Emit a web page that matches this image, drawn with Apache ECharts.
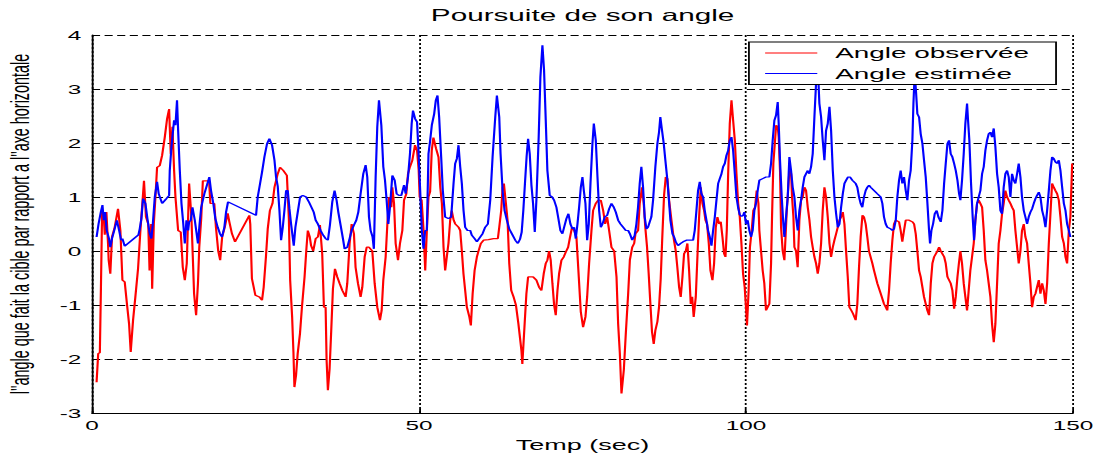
<!DOCTYPE html>
<html>
<head>
<meta charset="utf-8">
<script src="https://cdn.jsdelivr.net/npm/echarts@6/dist/echarts.min.js"></script>
<style>
  html, body { margin: 0; padding: 0; background: #fff; overflow: hidden; width: 1101px; height: 459px; }
  /* the figure is laid out on a 612px-wide canvas and stretched horizontally */
  #chart { width: 612px; height: 459px; transform: scaleX(1.79902); transform-origin: 0 0; }
</style>
</head>
<body>
<div id="chart"></div>
<script>
// Axis ranges and tick spacing
const xRange = [0, 150];
const xStep = 50;
const yRange = [-3, 4];
const yStep = 1;

const seriesNames = ['Angle observée', 'Angle estimée'];

// Observed angle: [time (s), angle]
const observedAngle = [
  [0.7,-2.43],[0.95,-1.9],[1.2,-1.88],[1.35,-0.79],[1.55,0.75],[1.8,0.63],[1.95,0.3],[2.2,0.72],[2.45,0.14],[2.55,-0.17],
  [2.8,-0.42],[3.06,0.26],[3.47,0.44],[3.98,0.78],[4.34,0.38],[4.65,-0.54],[5.0,-0.57],[5.36,-1.0],[5.67,-1.35],[5.92,-1.87],
  [6.28,-1.28],[6.63,-0.85],[7.04,-0.33],[7.4,0.38],[7.95,1.3],[8.25,0.63],[8.6,0.5],[8.8,-0.36],[9.05,0.5],[9.2,-0.7],
  [9.45,0.5],[9.7,1.0],[9.95,1.55],[10.36,1.58],[10.72,1.77],[11.12,2.1],[11.48,2.45],[11.79,2.63],[12.04,1.8],[12.3,2.3],
  [12.55,1.5],[12.76,1.0],[13.17,0.38],[13.57,0.35],[13.88,-0.3],[14.19,-0.54],[14.49,-0.23],[14.85,1.25],[15.2,0.63],[15.61,-0.79],
  [15.92,-1.19],[16.2,-0.6],[16.4,0.07],[16.7,0.6],[16.95,1.3],[17.9,1.3],[18.1,0.88],[18.7,0.88],[18.95,0.44],[19.3,0.0],
  [19.6,-0.17],[19.9,0.26],[20.3,0.44],[20.75,0.7],[21.0,0.54],[21.4,0.32],[21.87,0.17],[24.06,0.66],[24.2,0.5],[24.45,-0.51],
  [24.98,-0.82],[25.6,-0.85],[26.0,-0.91],[26.25,-0.67],[26.6,-0.1],[26.87,0.41],[27.2,0.75],[27.6,0.88],[27.9,1.18],[28.4,1.43],
  [28.75,1.55],[29.25,1.49],[29.8,1.4],[30.1,0.6],[30.3,-0.54],[30.6,-1.22],[30.8,-1.87],[30.95,-2.52],[31.2,-2.3],[31.45,-1.9],
  [31.8,-1.53],[32.1,-1.04],[32.5,-0.48],[32.8,0.07],[33.0,0.38],[33.3,0.26],[33.5,0.1],[33.83,0.0],[34.2,0.23],[34.54,0.26],
  [34.85,0.48],[35.2,-0.05],[35.46,-1.04],[35.72,-1.04],[35.87,-2.02],[36.07,-2.58],[36.33,-2.18],[36.58,-1.47],[36.84,-0.7],[37.15,-0.33],
  [37.5,-0.48],[37.86,-0.6],[38.27,-0.73],[38.78,-0.85],[39.03,-0.6],[39.39,0.14],[39.7,0.5],[40.05,0.32],[40.3,-0.3],[40.67,-0.6],
  [41.07,-0.85],[41.33,-0.67],[41.69,-0.11],[42.0,0.07],[42.35,0.07],[42.86,0.0],[43.22,-0.6],[43.62,-1.04],[44.03,-1.28],[44.29,-1.1],
  [44.54,-0.54],[44.9,-0.11],[45.16,0.5],[45.41,1.0],[45.77,0.81],[45.92,1.18],[46.18,0.88],[46.43,0.14],[46.79,-0.17],[47.09,0.14],
  [47.45,0.38],[47.71,0.94],[48.06,1.06],[48.32,1.43],[48.62,1.56],[48.98,1.68],[49.39,1.96],[49.7,1.86],[49.95,1.5],[50.1,1.0],
  [50.4,0.94],[50.7,0.38],[50.95,-0.36],[51.2,0.38],[51.45,1.0],[51.7,1.1],[51.95,1.86],[52.2,2.1],[52.6,1.9],[52.98,1.74],
  [53.25,1.18],[53.5,0.88],[53.75,0.07],[54.0,-0.36],[54.25,-0.11],[54.5,0.14],[54.77,0.57],[55.0,0.75],[55.3,0.57],[55.55,0.5],
  [56.05,0.44],[56.3,0.38],[56.55,0.0],[56.8,-0.42],[57.06,-0.73],[57.32,-1.04],[57.7,-1.22],[57.93,-1.38],[58.2,-0.79],[58.5,-0.36],
  [58.85,-0.11],[59.1,0.0],[59.46,0.14],[59.87,0.2],[60.63,0.21],[61.4,0.23],[62.06,0.23],[62.27,0.44],[62.57,0.75],[62.78,1.18],
  [62.98,1.25],[63.29,0.88],[63.54,0.57],[63.8,-0.23],[64.1,-0.73],[64.46,-0.85],[64.82,-1.0],[65.2,-1.35],[65.66,-1.84],[65.8,-2.09],
  [66.17,-1.31],[66.42,-0.79],[66.68,-0.48],[67.44,-0.48],[67.95,-0.54],[68.36,-0.67],[68.72,-0.73],[69.07,-0.42],[69.38,-0.23],[69.63,-0.17],
  [69.89,0.0],[70.14,-0.17],[70.4,-0.6],[70.66,-1.0],[70.91,-1.19],[71.17,-0.73],[71.42,-0.42],[71.78,-0.17],[72.13,-0.11],[72.44,-0.02],
  [72.8,0.07],[73.05,0.23],[73.4,0.44],[73.72,0.38],[74.07,0.26],[74.43,-0.48],[74.74,-1.13],[75.09,-1.41],[75.45,-1.22],[75.71,-0.85],
  [76.01,-0.23],[76.37,0.38],[76.62,0.75],[77.03,0.88],[77.39,0.94],[77.8,0.94],[78.16,0.75],[78.46,0.5],[78.77,0.63],[79.07,0.38],
  [79.43,0.07],[79.84,0.0],[80.2,-0.48],[80.45,-1.35],[80.71,-1.9],[80.96,-2.64],[81.32,-2.2],[81.62,-1.53],[81.98,-0.79],[82.24,-0.17],
  [82.6,0.07],[82.9,0.14],[83.1,0.32],[83.5,0.38],[83.75,0.88],[84.1,1.18],[84.36,0.88],[84.6,0.44],[84.87,0.07],[85.12,-0.42],
  [85.38,-0.98],[85.63,-1.5],[85.89,-1.72],[86.14,-1.47],[86.45,-1.31],[86.7,-1.04],[86.96,-0.51],[87.2,0.26],[87.47,1.03],[87.73,1.37],
  [87.98,1.34],[88.24,0.94],[88.6,0.57],[88.95,0.23],[89.26,0.0],[89.5,-0.3],[89.77,-0.67],[90.02,-0.85],[90.28,-0.48],[90.53,-0.05],
  [90.79,0.0],[91.04,0.14],[91.3,-0.36],[91.55,-0.98],[91.77,-0.85],[92.0,-1.22],[92.32,-0.85],[92.57,-0.11],[92.83,0.63],[93.08,1.18],
  [93.34,0.88],[93.59,0.75],[93.8,0.57],[94.05,0.5],[94.31,0.14],[94.56,-0.36],[94.87,-0.54],[95.12,-0.23],[95.38,0.44],[95.63,0.63],
  [95.89,0.5],[96.14,0.54],[96.4,0.26],[96.65,-0.05],[96.86,-0.11],[97.06,0.38],[97.27,1.43],[97.52,2.36],[97.78,2.79],[98.03,2.42],
  [98.29,2.05],[98.54,1.43],[98.8,0.88],[99.05,0.63],[99.3,0.14],[99.55,-0.42],[99.8,-0.67],[100.0,-1.04],[100.15,-1.38],[100.4,-0.73],
  [100.6,0.07],[100.87,0.38],[101.12,0.75],[101.38,0.81],[101.63,1.12],[101.9,0.88],[102.04,0.38],[102.3,0.0],[102.55,-0.36],[102.8,-0.6],
  [103.06,-1.1],[103.32,-1.04],[103.57,-0.98],[103.83,-0.23],[103.98,0.63],[104.18,1.62],[104.44,2.05],[104.6,2.33],[104.85,2.3],[105.0,2.11],
  [105.2,1.49],[105.36,0.44],[105.61,0.0],[105.87,-0.17],[106.02,0.2],[106.23,0.75],[106.38,1.0],[106.63,1.49],[106.9,1.43],[107.04,1.0],
  [107.25,0.63],[107.4,0.07],[107.65,0.0],[107.9,-0.3],[108.16,0.57],[108.42,0.94],[108.67,1.0],[108.93,1.18],[109.18,1.12],[109.44,0.81],
  [109.7,0.57],[109.95,0.26],[110.2,0.07],[110.46,-0.11],[110.71,-0.23],[110.97,-0.42],[111.22,-0.23],[111.48,0.14],[111.73,0.75],[111.99,1.18],
  [112.24,1.0],[112.5,0.63],[112.76,0.14],[113.01,-0.11],[113.27,0.07],[113.52,0.2],[113.78,0.32],[114.03,0.44],[114.29,0.57],[114.54,0.63],
  [114.8,0.72],[115.05,0.5],[115.3,0.0],[115.56,-0.48],[115.8,-1.04],[116.1,-1.1],[116.36,-1.16],[116.77,-1.28],[117.02,-0.98],[117.28,-0.3],
  [117.53,0.26],[117.8,0.66],[118.04,0.63],[118.3,0.5],[118.55,0.26],[118.8,0.0],[119.32,-0.23],[119.57,-0.36],[120.08,-0.6],[120.6,-0.79],
  [121.1,-0.98],[121.36,-1.04],[121.6,-1.1],[121.87,-0.73],[122.12,-0.23],[122.38,0.2],[122.63,0.5],[122.9,0.57],[123.4,0.54],[123.65,0.38],
  [123.9,0.17],[124.16,0.38],[124.42,0.57],[124.93,0.57],[125.44,0.54],[125.7,0.5],[125.95,0.32],[126.2,0.0],[126.46,-0.36],[126.71,-0.48],
  [126.97,-0.67],[127.22,-0.85],[127.48,-0.98],[127.73,-1.1],[127.99,-1.19],[128.25,-0.6],[128.5,-0.23],[128.76,-0.11],[129.27,0.0],[129.52,0.07],
  [129.78,0.0],[130.3,-0.11],[130.54,-0.23],[130.8,-0.48],[131.3,-0.6],[131.56,-0.73],[131.82,-1.07],[132.07,-0.85],[132.33,-0.48],[132.55,-0.23],
  [132.78,0.0],[133.03,-0.23],[133.29,-0.6],[133.54,-0.85],[133.8,-1.1],[134.05,-0.73],[134.3,-0.36],[134.56,-0.11],[134.82,0.14],[135.07,0.57],
  [135.33,0.88],[135.58,0.94],[135.84,0.88],[136.1,0.81],[136.35,0.38],[136.6,-0.17],[136.86,-0.36],[137.11,-0.6],[137.37,-0.85],[137.62,-1.35],
  [137.88,-1.69],[138.13,-1.35],[138.39,-0.6],[138.64,0.14],[138.9,0.38],[139.15,0.69],[139.4,0.88],[139.66,1.12],[139.92,1.0],[140.17,0.94],
  [140.43,0.88],[140.68,0.81],[140.94,0.75],[141.19,0.38],[141.45,0.07],[141.7,-0.23],[141.96,0.0],[142.2,0.38],[142.47,0.5],[142.72,0.26],
  [142.98,0.14],[143.23,-0.23],[143.49,-0.6],[143.74,-1.04],[144.0,-0.85],[144.26,-0.79],[144.5,-0.67],[144.77,-0.54],[145.02,-0.79],[145.28,-0.6],
  [145.53,-0.73],[145.79,-0.98],[146.04,-0.6],[146.3,0.14],[146.55,0.69],[146.8,1.25],[147.06,1.18],[147.3,1.12],[147.57,1.06],[147.83,0.94],
  [148.08,0.63],[148.34,0.26],[148.6,0.14],[148.85,-0.11],[149.1,-0.23],[149.36,0.38],[149.6,0.63],[149.87,1.62]
];

// Estimated angle: [time (s), angle]
const estimatedAngle = [
  [0.7,0.26],[1.0,0.5],[1.35,0.72],[1.6,0.85],[1.8,0.57],[2.0,0.72],[2.25,0.38],[2.6,0.23],[2.8,0.07],[3.05,0.23],
  [3.4,0.38],[3.8,0.57],[4.15,0.38],[4.45,0.2],[4.65,0.23],[5.0,0.09],[7.1,0.3],[7.3,0.41],[7.55,0.6],[7.81,0.97],
  [8.17,0.88],[8.47,0.6],[8.83,0.32],[9.08,0.23],[9.3,0.5],[9.6,1.0],[9.95,1.28],[10.2,1.06],[10.72,0.88],[11.38,0.97],
  [11.79,1.03],[11.89,1.49],[12.15,1.93],[12.55,2.42],[12.76,2.33],[13.0,2.79],[13.17,2.23],[13.42,1.5],[13.68,0.88],[13.93,0.54],
  [14.19,0.14],[14.44,0.57],[14.7,0.38],[14.85,0.54],[15.1,0.57],[15.36,0.81],[15.72,0.57],[16.0,0.32],[16.2,0.14],[16.45,0.5],
  [16.7,0.81],[17.18,1.06],[17.53,1.2],[17.94,1.37],[18.2,1.12],[18.55,0.88],[18.86,0.6],[19.22,0.44],[19.57,0.32],[19.88,0.26],
  [20.24,0.44],[20.5,0.72],[20.8,0.91],[25.08,0.66],[25.34,1.0],[25.7,1.25],[26.0,1.46],[26.36,1.74],[26.77,1.99],[27.12,2.08],
  [27.53,1.96],[27.9,1.68],[28.14,1.37],[28.4,1.2],[28.66,0.75],[28.91,0.2],[29.17,0.44],[29.42,0.75],[29.68,1.12],[29.93,1.12],
  [30.19,0.78],[30.44,0.5],[30.85,0.1],[31.1,0.44],[31.46,0.72],[31.82,1.0],[32.23,1.03],[32.74,1.0],[33.2,0.9],[33.6,0.8],
  [33.9,0.72],[34.2,0.57],[34.54,0.5],[34.95,0.38],[35.36,0.29],[35.72,0.23],[36.07,0.2],[36.38,0.48],[36.74,0.91],[37.09,1.12],
  [37.4,0.94],[37.66,0.72],[38.01,0.48],[38.37,0.23],[38.62,0.04],[39.03,0.07],[39.39,0.23],[39.7,0.38],[40.05,0.48],[40.41,0.57],
  [40.72,0.72],[41.07,1.06],[41.48,1.43],[41.84,1.59],[42.09,1.37],[42.35,0.63],[42.6,0.38],[42.9,0.26],[43.1,0.04],[43.37,1.37],
  [43.62,2.3],[43.88,2.79],[44.24,2.33],[44.54,1.56],[44.8,1.31],[45.05,0.94],[45.31,0.5],[45.56,0.81],[45.92,1.4],[46.28,1.31],
  [46.58,1.06],[46.94,1.03],[47.3,1.03],[47.71,1.22],[47.96,1.06],[48.32,1.37],[48.62,1.8],[48.88,2.36],[49.08,2.6],[49.4,2.45],
  [49.7,2.39],[49.92,1.86],[50.18,1.12],[50.43,0.38],[50.69,0.04],[50.94,0.38],[51.2,0.38],[51.45,1.8],[51.71,2.05],[51.96,2.33],
  [52.32,2.54],[52.57,2.79],[52.83,2.88],[53.08,2.48],[53.39,1.74],[53.64,1.12],[54.0,0.63],[54.51,0.6],[54.92,0.63],[55.28,1.25],
  [55.53,1.62],[55.79,1.71],[56.04,1.96],[56.3,1.56],[56.55,1.25],[56.81,0.75],[57.06,0.44],[57.42,0.38],[57.83,0.38],[58.08,0.29],
  [58.49,0.23],[58.85,0.17],[59.36,0.26],[59.72,0.32],[60.12,0.44],[60.53,0.5],[60.89,0.94],[61.25,1.74],[61.66,2.48],[61.91,2.88],
  [62.27,2.48],[62.47,1.8],[62.78,1.12],[63.08,0.75],[63.44,0.57],[63.8,0.41],[64.2,0.32],[64.72,0.2],[65.12,0.14],[65.45,0.22],
  [65.7,0.35],[65.95,0.75],[66.2,1.25],[66.45,1.74],[66.68,2.08],[66.93,1.8],[67.19,1.22],[67.44,0.88],[67.7,0.35],[67.95,0.94],
  [68.3,2.11],[68.56,3.22],[68.87,3.81],[69.12,3.35],[69.38,2.42],[69.63,1.49],[69.99,1.03],[70.35,1.0],[70.66,0.94],[71.01,0.81],
  [71.27,0.63],[71.62,0.38],[71.93,0.32],[72.19,0.44],[72.54,0.6],[72.85,0.69],[73.15,0.5],[73.46,0.41],[73.72,0.44],[73.97,0.23],
  [74.23,0.5],[74.48,0.81],[74.74,1.18],[74.99,1.37],[75.2,1.12],[75.45,0.88],[75.71,0.2],[75.96,0.5],[76.22,1.25],[76.52,1.99],
  [76.73,2.36],[77.03,2.05],[77.29,1.37],[77.54,0.75],[77.8,0.44],[78.05,0.5],[78.41,0.63],[78.77,0.66],[79.07,0.78],[79.43,0.88],
  [79.79,0.81],[80.09,0.72],[80.45,0.57],[80.81,0.5],[81.22,0.44],[81.62,0.38],[81.98,0.38],[82.24,0.32],[82.6,0.2],[82.98,0.29],
  [83.24,0.5],[83.49,0.81],[83.75,1.25],[84.0,1.56],[84.26,1.18],[84.51,0.63],[84.77,0.41],[85.02,0.44],[85.28,0.54],[85.53,0.63],
  [85.79,0.94],[86.14,1.56],[86.45,1.99],[86.7,2.2],[86.9,2.48],[87.16,2.23],[87.42,1.99],[87.67,1.68],[87.93,1.37],[88.18,1.0],
  [88.44,0.57],[88.75,0.32],[89.0,0.26],[89.26,0.17],[89.61,0.1],[90.02,0.14],[90.38,0.17],[90.89,0.2],[91.4,0.2],[91.91,0.2],
  [92.16,0.38],[92.42,0.75],[92.67,1.12],[92.93,1.28],[93.18,1.06],[93.44,1.0],[93.69,0.75],[93.95,0.57],[94.2,0.38],[94.46,0.26],
  [94.72,0.1],[94.97,0.38],[95.23,0.63],[95.48,0.94],[95.74,1.25],[95.99,1.34],[96.25,1.43],[96.5,1.56],[96.76,1.62],[97.01,1.77],
  [97.27,1.86],[97.52,2.05],[97.78,2.11],[98.03,1.86],[98.29,1.43],[98.54,1.0],[98.8,0.8],[99.05,0.67],[99.31,0.64],[99.56,0.66],
  [99.75,0.72],[100.0,0.5],[100.26,0.57],[100.51,0.38],[100.77,0.26],[101.02,0.38],[101.28,0.75],[101.53,0.88],[101.79,1.12],[102.04,1.31],
  [102.55,1.34],[103.06,1.37],[103.57,1.37],[103.83,1.62],[104.08,2.05],[104.34,2.42],[104.59,2.51],[104.85,2.76],[105.0,2.36],[105.2,1.68],
  [105.46,1.0],[105.71,0.5],[105.87,0.26],[106.12,0.63],[106.38,1.0],[106.63,1.74],[106.89,1.49],[107.14,1.18],[107.4,1.0],[107.65,0.63],
  [107.91,0.38],[108.16,0.75],[108.42,0.94],[108.67,1.18],[108.93,1.37],[109.18,1.43],[109.44,1.49],[109.69,1.43],[109.95,1.56],[110.2,1.8],
  [110.46,2.48],[110.71,3.1],[110.97,3.45],[111.22,2.73],[111.48,2.48],[111.73,2.05],[111.99,1.68],[112.24,2.23],[112.5,2.36],[112.76,2.67],
  [113.01,2.23],[113.27,1.49],[113.52,1.0],[113.78,0.69],[114.03,0.44],[114.29,0.5],[114.54,0.81],[114.8,1.06],[115.05,1.25],[115.31,1.31],
  [115.6,1.37],[115.9,1.37],[116.26,1.31],[116.77,1.25],[117.02,1.18],[117.28,1.0],[117.53,0.88],[117.79,0.81],[118.04,1.0],[118.3,1.12],
  [118.55,1.18],[118.81,1.22],[119.06,1.18],[119.57,1.12],[120.08,1.06],[120.6,1.0],[120.85,0.88],[121.1,0.63],[121.36,0.5],[121.61,0.44],
  [122.12,0.41],[122.38,0.38],[122.63,0.41],[122.9,0.57],[123.14,1.0],[123.4,1.31],[123.65,1.49],[123.9,1.25],[124.16,1.37],[124.42,1.12],
  [124.67,0.94],[124.93,1.31],[125.18,1.49],[125.44,2.05],[125.6,2.73],[125.8,3.3],[126.0,2.94],[126.2,2.54],[126.46,2.48],[126.71,2.17],
  [126.97,1.99],[127.22,1.68],[127.48,1.37],[127.74,0.88],[127.99,0.38],[128.14,0.14],[128.35,0.38],[128.6,0.5],[128.86,0.69],[129.16,0.75],
  [129.42,0.63],[129.78,0.54],[130.03,0.75],[130.29,1.25],[130.54,1.62],[130.8,1.99],[131.05,2.05],[131.3,1.8],[131.56,1.74],[131.82,1.62],
  [132.07,1.49],[132.33,1.31],[132.58,1.06],[132.78,0.94],[133.03,1.31],[133.29,1.8],[133.54,2.36],[133.8,2.73],[133.95,2.42],[134.15,2.05],
  [134.41,1.25],[134.66,0.63],[134.87,0.2],[135.07,0.57],[135.33,0.88],[135.58,1.0],[135.84,1.12],[136.1,1.43],[136.35,1.56],[136.6,1.86],
  [136.86,2.05],[137.11,2.17],[137.37,2.2],[137.62,2.11],[137.88,2.27],[138.13,1.93],[138.39,1.43],[138.64,1.18],[138.9,0.75],[139.15,0.69],
  [139.4,1.18],[139.66,1.43],[139.92,1.49],[140.17,1.37],[140.43,1.0],[140.68,1.43],[140.94,1.31],[141.19,1.25],[141.45,1.43],[141.7,1.62],
  [141.96,1.37],[142.2,1.0],[142.47,0.75],[142.72,0.63],[142.98,0.5],[143.23,0.63],[143.49,0.72],[143.74,0.78],[144.0,0.88],[144.26,0.97],
  [144.5,1.03],[144.77,1.09],[145.02,1.0],[145.28,0.75],[145.53,0.63],[145.79,0.44],[146.04,0.75],[146.3,1.12],[146.55,1.49],[146.8,1.74],
  [147.06,1.71],[147.3,1.65],[147.57,1.62],[147.83,1.68],[148.08,1.49],[148.34,1.18],[148.6,0.88],[148.85,0.75],[149.1,0.5],[149.36,0.38],
  [149.6,0.26]
];

const FONT = '"Liberation Sans", Arial, Helvetica, sans-serif';

const chart = echarts.init(document.getElementById('chart'), null, { renderer: 'svg' });

chart.setOption({
  animation: false,
  backgroundColor: '#ffffff',
  title: {
    text: 'Poursuite de son angle',
    left: 239.5,
    top: 7,
    padding: 0,
    textStyle: { fontFamily: FONT, fontSize: 16.5, fontWeight: 'normal', color: '#000' }
  },
  legend: {
    data: seriesNames,
    orient: 'vertical',
    left: 416.3,
    top: 42,
    padding: [3, 15, 3, 9],
    itemGap: 4.5,
    itemWidth: 29,
    itemHeight: 1.2,
    icon: 'rect',
    backgroundColor: '#ffffff',
    borderColor: '#000',
    borderWidth: 1,
    borderRadius: 0,
    selectedMode: false,
    textStyle: { fontFamily: FONT, fontSize: 15.5, lineHeight: 14.5, color: '#000', padding: [0, 0, 0, 5] }
  },
  // fixed plot box; labels and names may sit close to the canvas edge
  grid: { left: 51.14, right: 15.56, top: 35, bottom: 46, containLabel: false, outerBoundsMode: 'none' },
  xAxis: {
    type: 'value',
    min: xRange[0],
    max: xRange[1],
    interval: xStep,
    name: 'Temp (sec)',
    nameLocation: 'middle',
    nameGap: 23,
    nameTextStyle: { fontFamily: FONT, fontSize: 15, color: '#000' },
    axisLine: { show: true, onZero: false, lineStyle: { color: '#000', width: 1 } },
    axisTick: { show: true, inside: true, length: 4, lineStyle: { color: '#000', width: 1 } },
    axisLabel: { margin: 5, fontFamily: FONT, fontSize: 13.5, color: '#000' },
    splitLine: { show: true, lineStyle: { color: '#000', width: 1, type: [2, 2] } }
  },
  yAxis: {
    type: 'value',
    min: yRange[0],
    max: yRange[1],
    interval: yStep,
    name: "l''angle que fait la cible par rapport a l''axe horizontale",
    nameLocation: 'middle',
    nameRotate: 90,
    nameGap: 33,
    nameTextStyle: { fontFamily: FONT, fontSize: 14.4, color: '#000' },
    axisLine: { show: true, lineStyle: { color: '#000', width: 1 } },
    axisTick: { show: true, inside: true, length: 3, lineStyle: { color: '#000', width: 1 } },
    axisLabel: { margin: 6, fontFamily: FONT, fontSize: 13.5, color: '#000' },
    splitLine: { show: true, lineStyle: { color: '#000', width: 1, type: [4.5, 2.5] } }
  },
  series: [
    {
      name: seriesNames[0],
      type: 'line',
      data: observedAngle,
      symbol: 'none',
      showSymbol: false,
      lineStyle: { color: '#ff0000', width: 1.2 },
      itemStyle: { color: '#ff0000' },
      z: 2
    },
    {
      name: seriesNames[1],
      type: 'line',
      data: estimatedAngle,
      symbol: 'none',
      showSymbol: false,
      lineStyle: { color: '#0000ff', width: 1.2 },
      itemStyle: { color: '#0000ff' },
      z: 3
    }
  ]
});
</script>
</body>
</html>
